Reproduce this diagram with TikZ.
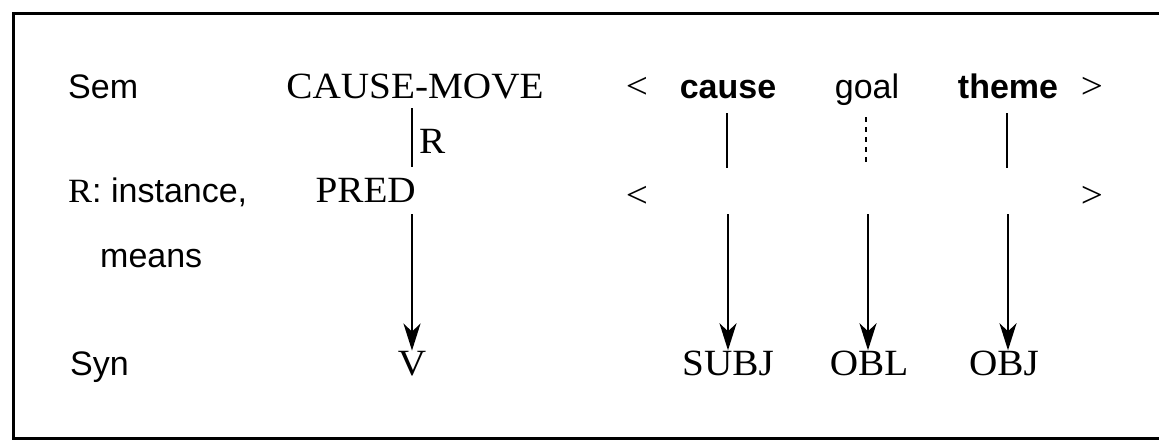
\documentclass[tikz,border=0pt]{standalone}
\usepackage{fontspec}
\setmainfont[FakeStretch=1.06]{Liberation Serif}
\newfontfamily\sansf{Liberation Sans}
\usetikzlibrary{arrows.meta}
\tikzset{
  serif/.style={inner sep=0pt, font=\fontsize{37}{40}\selectfont},
  sans/.style={inner sep=0pt, font=\sansf\fontsize{34}{38}\selectfont},
  sansb/.style={inner sep=0pt, font=\sansf\bfseries\fontsize{34}{38}\selectfont},
  link/.style={line width=2.4pt},
  dotlink/.style={line width=2.4pt, dash pattern=on 5pt off 5pt},
  arr/.style={line width=2.4pt, -{Stealth[length=27pt,width=17pt,inset=8pt]}},
  frame/.style={line width=3pt}
}
\begin{document}
\begin{tikzpicture}[x=1pt,y=-1pt]
\useasboundingbox (0,0) rectangle (1159,440);
% frame open on the right
\draw[frame] (1159,13) -- (13,13) -- (13,438) -- (1159,438);

% row labels
\node[sans, anchor=base west] (sem) at (68,98) {Sem};
\node[sans, anchor=base west] (rinst) at (68,202) {{\rmfamily R}: instance,};
\node[sans, anchor=base west] (means) at (100,267) {means};
\node[sans, anchor=base west] (syn) at (70,375) {Syn};

% predicate column
\node[serif, anchor=base] (cm) at (415,98) {CAUSE-MOVE};
\node[serif, anchor=base east] (pred) at (416,202) {PRED};
\node[serif, anchor=base] (v) at (412,375) {V};
\coordinate (cmA) at (412,108);
\coordinate (cmB) at (412,167);
\coordinate (prA) at (412,214);
\draw[link] (cmA) -- (cmB) node[serif, midway, anchor=west, xshift=6pt, yshift=-4pt] (rlab) {R};
\draw[arr] (prA) -- (v.north);

% argument brackets
\node[serif, anchor=base] (lt1) at (637,98) {<};
\node[serif, anchor=base] (gt1) at (1092,98) {>};
\node[serif, anchor=base] (lt2) at (637,207) {<};
\node[serif, anchor=base] (gt2) at (1092,207) {>};

% roles
\node[sansb, anchor=base] (cause) at (728,98) {cause};
\node[sans, anchor=base] (goal) at (867,98) {goal};
\node[sansb, anchor=base] (theme) at (1008,98) {theme};

% functions
\node[serif, anchor=base] (subj) at (728,375) {SUBJ};
\node[serif, anchor=base] (obl) at (869,375) {OBL};
\node[serif, anchor=base] (obj) at (1004,375) {OBJ};

% links role -> slot
\coordinate (ca) at (727,113);
\coordinate (cb) at (727,168);
\coordinate (ga) at (866,117);
\coordinate (gb) at (866,165);
\coordinate (ta) at (1007,113);
\coordinate (tb) at (1007,168);
\draw[link] (ca) -- (cb);
\draw[dotlink] (ga) -- (gb);
\draw[link] (ta) -- (tb);

% arrows slot -> function
\coordinate (sa) at (728,214);
\coordinate (oa) at (868,214);
\coordinate (ja) at (1008,214);
\draw[arr] (sa) -- (sa |- subj.north);
\draw[arr] (oa) -- (oa |- obl.north);
\draw[arr] (ja) -- (ja |- obj.north);
\end{tikzpicture}
\end{document}
